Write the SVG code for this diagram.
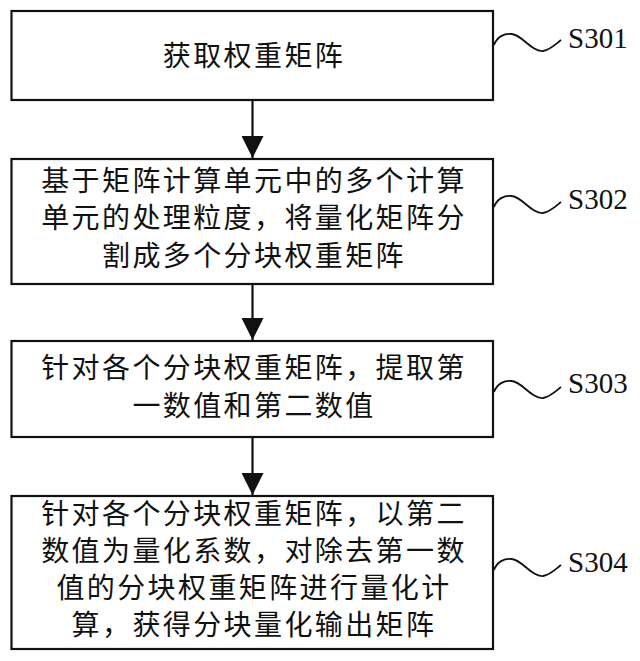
<svg xmlns="http://www.w3.org/2000/svg" width="640" height="661" viewBox="0 0 640 661">
<defs>
<style>
.box{fill:#fff;stroke:#111;stroke-width:2.2}
.t{font-family:"Noto Sans CJK SC","Noto Sans CJK JP",sans-serif;font-size:28px;letter-spacing:2.4px;fill:#111;text-anchor:middle}
.lbl{font-family:"Liberation Serif","Times New Roman",serif;font-size:29px;fill:#111}
.wave{fill:none;stroke:#111;stroke-width:1.8}
.conn{stroke:#111;stroke-width:2.2;fill:none}
</style>
<marker id="ah" markerUnits="userSpaceOnUse" markerWidth="22" markerHeight="22" refX="22" refY="11" orient="auto" viewBox="0 0 22 22">
<path d="M0,0 L22,11 L0,22 z" fill="#111"/>
</marker>
<path id="wv" d="M0,0 C3,-8 10,-12 18,-11 C28,-10 38,7 49,6 C56,5 62,-1 67,-5"/>
</defs>
<rect width="640" height="661" fill="#fff"/>
<g id="connectors">
<line class="conn" x1="252.5" y1="100" x2="252.5" y2="158" marker-end="url(#ah)"/>
<line class="conn" x1="252.5" y1="284" x2="252.5" y2="340" marker-end="url(#ah)"/>
<line class="conn" x1="252.5" y1="437" x2="252.5" y2="495" marker-end="url(#ah)"/>
</g>
<g id="s301">
<rect class="box" x="11.5" y="11" width="481.5" height="89"/>
<text class="t" x="254" y="65.5">获取权重矩阵</text>
<use href="#wv" class="wave" x="494" y="45"/>
<text class="lbl" x="568" y="48">S301</text>
</g>
<g id="s302">
<rect class="box" x="11.5" y="159" width="481.5" height="125"/>
<text class="t" x="254" y="190.5">基于矩阵计算单元中的多个计算</text>
<text class="t" x="254" y="228">单元的处理粒度，将量化矩阵分</text>
<text class="t" x="254" y="265.5">割成多个分块权重矩阵</text>
<use href="#wv" class="wave" x="494" y="207"/>
<text class="lbl" x="568" y="209">S302</text>
</g>
<g id="s303">
<rect class="box" x="11.5" y="341" width="481.5" height="96"/>
<text class="t" x="254" y="377.5">针对各个分块权重矩阵，提取第</text>
<text class="t" x="254" y="415.5">一数值和第二数值</text>
<use href="#wv" class="wave" x="494" y="392"/>
<text class="lbl" x="568" y="393">S303</text>
</g>
<g id="s304">
<rect class="box" x="11.5" y="496" width="481.5" height="153"/>
<text class="t" x="254" y="524">针对各个分块权重矩阵，以第二</text>
<text class="t" x="254" y="561">数值为量化系数，对除去第一数</text>
<text class="t" x="254" y="598">值的分块权重矩阵进行量化计</text>
<text class="t" x="254" y="635">算，获得分块量化输出矩阵</text>
<use href="#wv" class="wave" x="494" y="570"/>
<text class="lbl" x="568" y="572">S304</text>
</g>
</svg>
